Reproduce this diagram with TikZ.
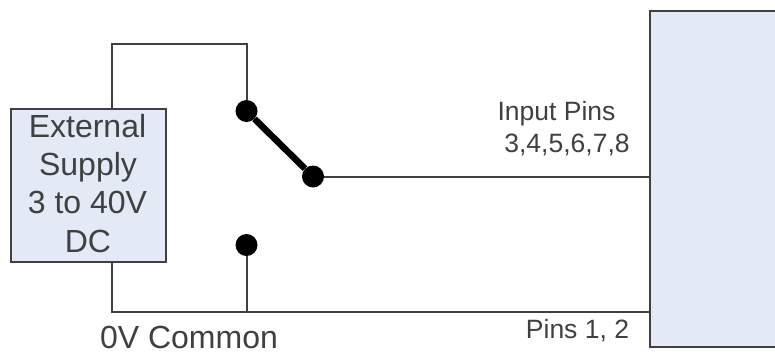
\documentclass[tikz,border=0pt]{standalone}
\usepackage{fontspec}
\setmainfont{Liberation Sans}
\definecolor{boxfill}{HTML}{E3EAF5}
\definecolor{linecol}{HTML}{404040}
\tikzset{
 wire/.style={draw=linecol,line width=2pt},
 box/.style={draw=linecol,line width=2.2pt,fill=boxfill,inner sep=0pt},
 contact/.style={circle,fill=black,minimum size=22pt,inner sep=0pt},
 lbl/.style={text=linecol,inner sep=0pt,anchor=base,font=\fontsize{26.5pt}{30pt}\selectfont},
 biglbl/.style={text=linecol,inner sep=0pt,anchor=base,font=\fontsize{32pt}{36pt}\selectfont}
}
\begin{document}
\begin{tikzpicture}[x=1pt,y=-1pt]
\useasboundingbox (0,0) rectangle (775,354);
\fill[white] (0,0) rectangle (775,354);
\coordinate (topl) at (111.5,44);
\coordinate (topr) at (246.5,44);
\coordinate (botl) at (111.5,311.5);
\coordinate (botm) at (246.5,311.5);
\node[contact] (c1) at (246.5,111) {};
\node[contact] (c2) at (313,176.5) {};
\node[contact] (c3) at (246.5,245) {};
\node[box,minimum width=155pt,minimum height=152.5pt] (sup) at (88.2,185.5) {};
\node[box,anchor=north west,minimum width=135pt,minimum height=335.5pt] (dev) at (649,10) {};
\draw[wire] (sup.north -| topl) -- (topl) -- (topr) -- (c1);
\draw[wire] (sup.south -| botl) -- (botl) -- (botl -| dev.west);
\draw[wire] (c3) -- (botm);
\draw[wire] (c2) -- (c2 -| dev.west);
\draw[line width=6.5pt,black] (c1) -- (c2);
\node[biglbl] (t1) at (87.5,137) {External};
\node[biglbl] (t2) at (88,175) {Supply};
\node[biglbl] (t3) at (87.5,213) {3 to 40V};
\node[biglbl] (t4) at (88,252.5) {DC};
\node[biglbl] (t5) at (189,348) {0V Common};
\node[lbl] (t6) at (556.5,120) {Input Pins};
\node[lbl] (t7) at (567,152.5) {3,4,5,6,7,8};
\node[lbl] (t8) at (577.5,338) {Pins 1, 2};
\end{tikzpicture}
\end{document}
